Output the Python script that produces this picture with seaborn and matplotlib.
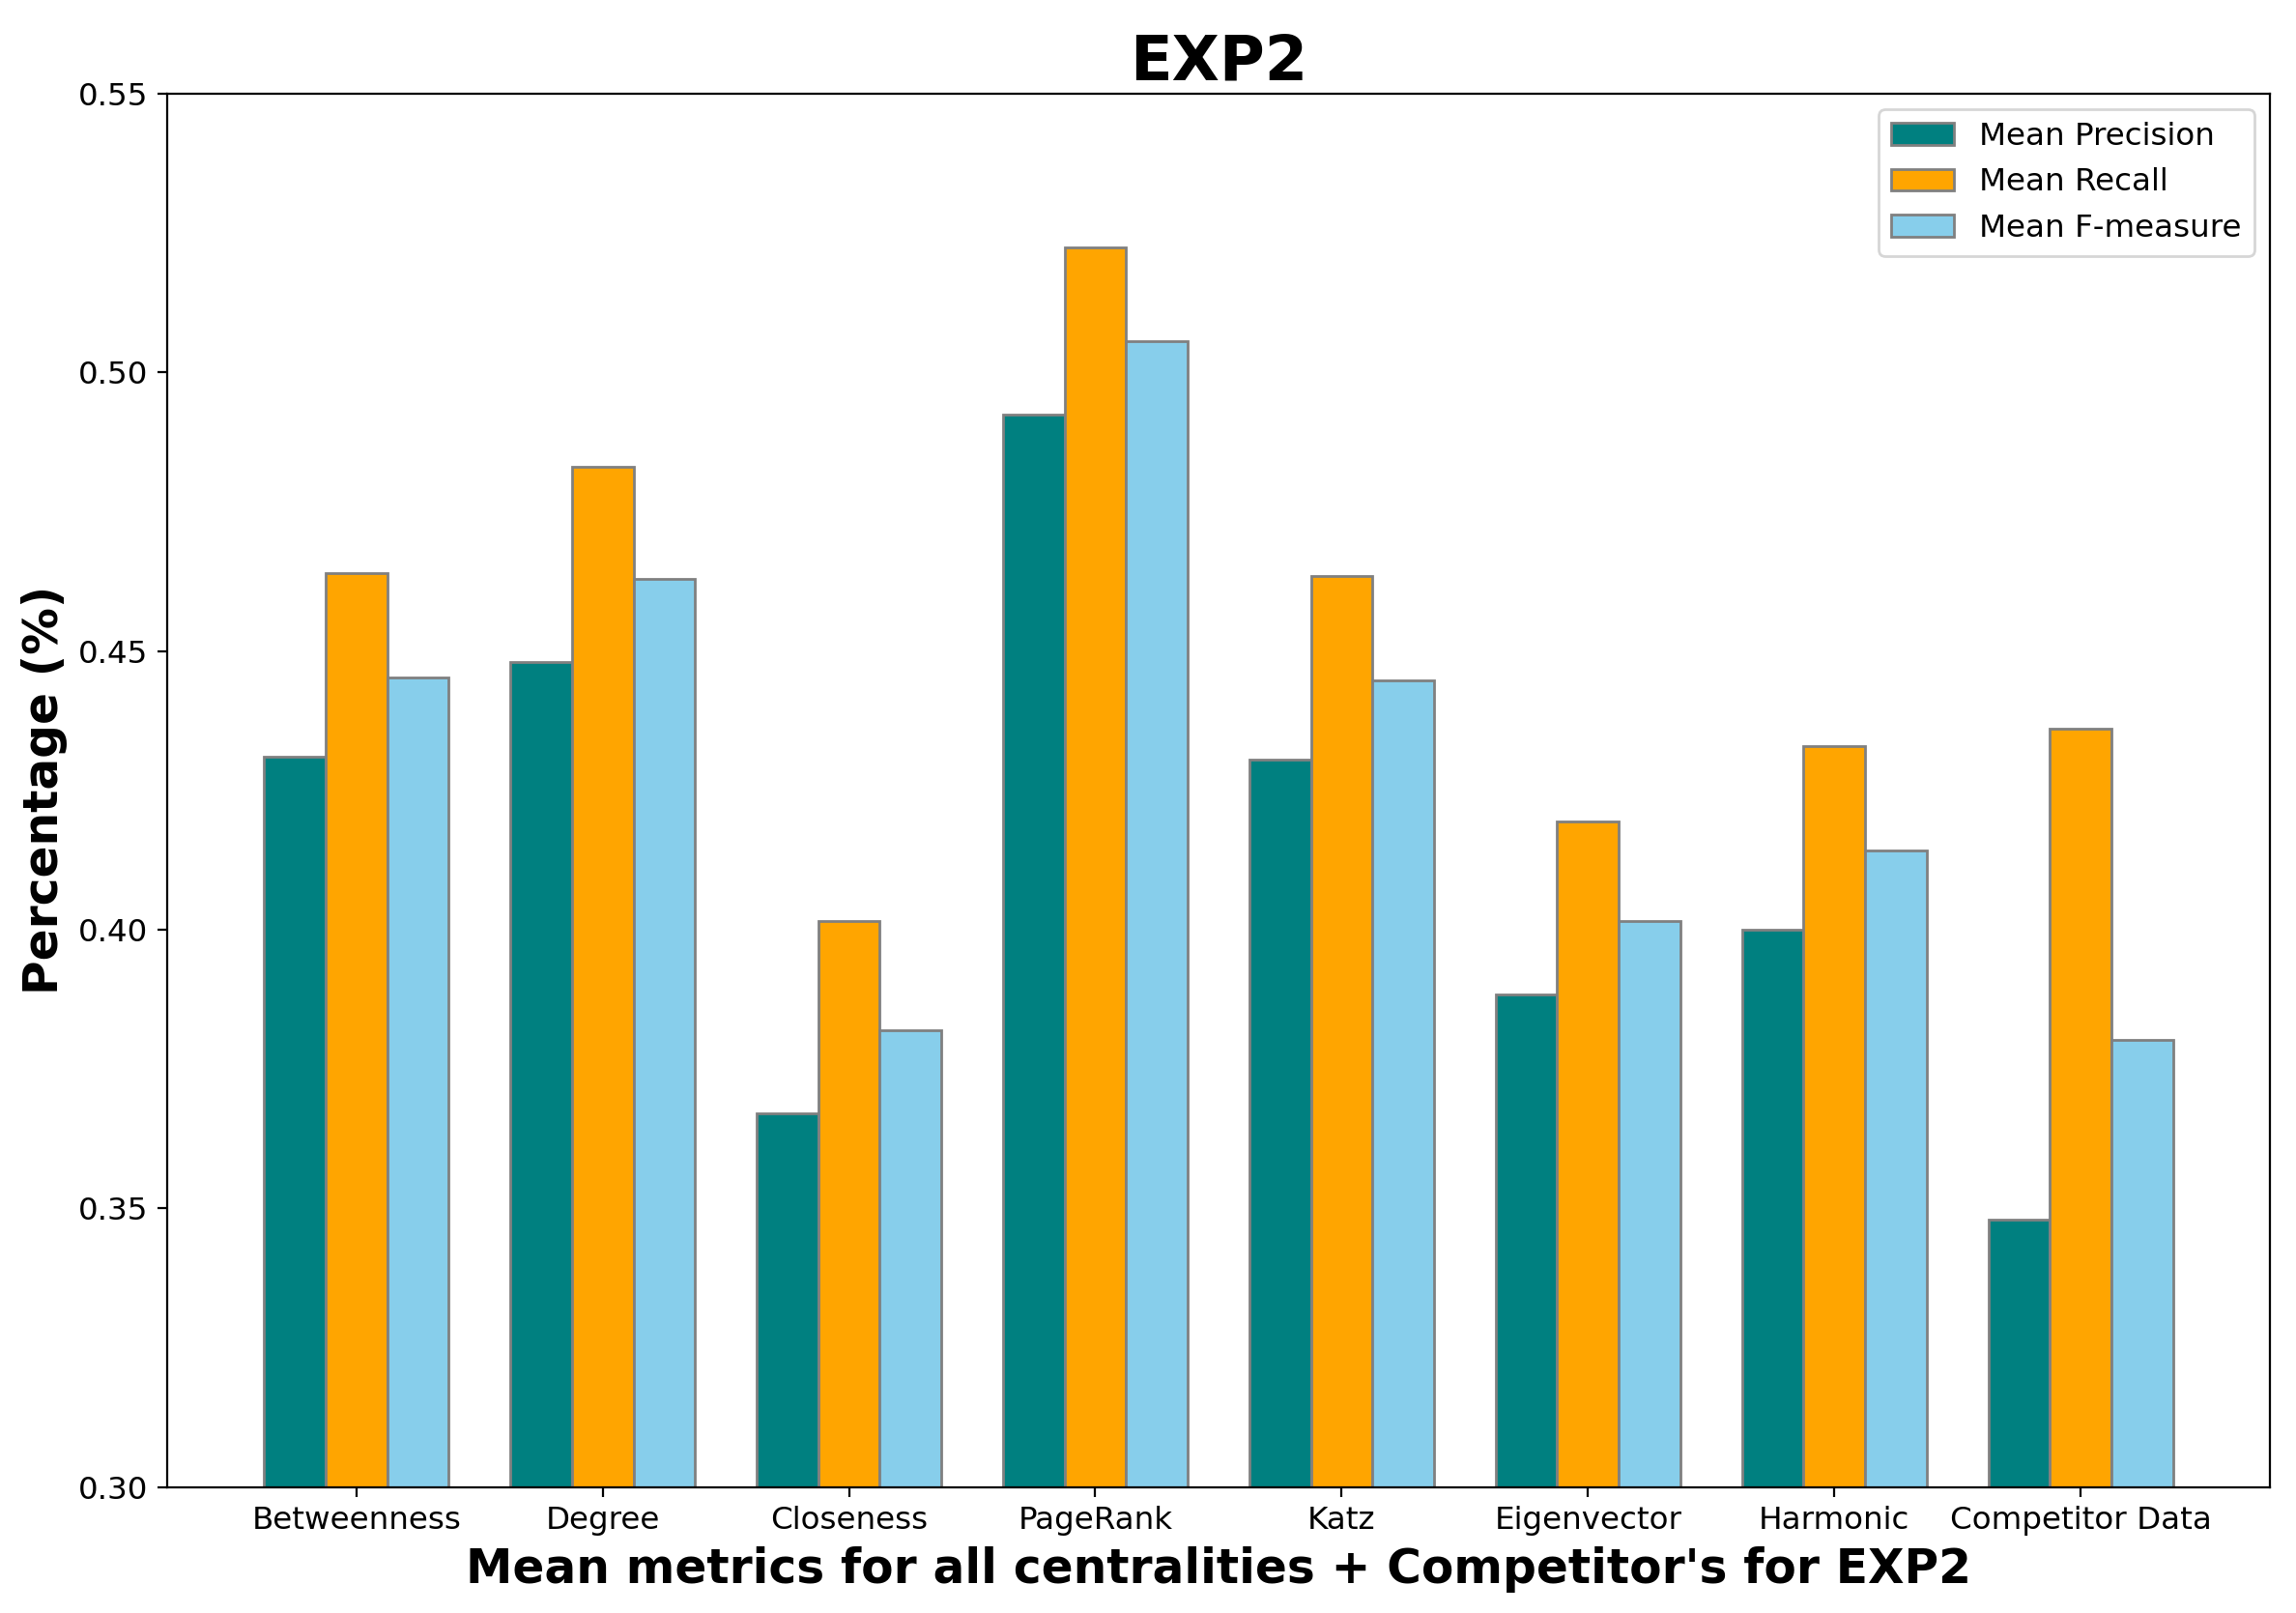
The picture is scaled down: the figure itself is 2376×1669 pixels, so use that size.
import pandas as pd
import matplotlib
matplotlib.use("Agg")
import matplotlib.pyplot as plt
import seaborn as sns

# ---------- Data ----------
centralities = ["Betweenness", "Degree", "Closeness", "PageRank",
                "Katz", "Eigenvector", "Harmonic", "Competitor Data"]
mean_precision = [0.431, 0.448, 0.367, 0.4924, 0.4305, 0.3884, 0.400, 0.348]
mean_recall = [0.464, 0.483, 0.4016, 0.5224, 0.4634, 0.4195, 0.433, 0.436]
mean_fmeasure = [0.4453, 0.463, 0.382, 0.5055, 0.4447, 0.4016, 0.4142, 0.3803]
metric_names = ["Mean Precision", "Mean Recall", "Mean F-measure"]

rows = []
for name, values in zip(metric_names, [mean_precision, mean_recall, mean_fmeasure]):
    for c, v in zip(centralities, values):
        rows.append({"centrality": c, "metric": name, "value": v})
df = pd.DataFrame(rows)

# ---------- Plot ----------
fig, ax = plt.subplots(figsize=(11.88, 8.345), dpi=200)
fig.subplots_adjust(left=0.0728, right=0.9886, top=0.942, bottom=0.078)

sns.barplot(data=df, x="centrality", y="value", hue="metric",
            palette=["#008080", "#FFA500", "#87CEEB"], saturation=1,
            edgecolor="grey", linewidth=1.0, width=0.75, ax=ax)

ax.set_ylim(0.30, 0.55)
ax.set_yticks([0.30, 0.35, 0.40, 0.45, 0.50, 0.55])
ax.set_yticklabels([f"{t:.2f}" for t in ax.get_yticks()])
ax.set_xlim(-0.768, 7.768)
ax.tick_params(axis="both", labelsize=11.7)

ax.set_title("EXP2", fontsize=23, weight="bold", pad=5)
ax.set_xlabel("Mean metrics for all centralities + Competitor's for EXP2",
              fontsize=17.5, weight="bold", labelpad=4)
ax.set_ylabel("Percentage (%)", fontsize=17.5, weight="bold")

handles, labels = ax.get_legend_handles_labels()
ax.legend(handles, labels, loc="upper right", fontsize=11.7, title=None)

plt.savefig("out.png")
plt.close()
